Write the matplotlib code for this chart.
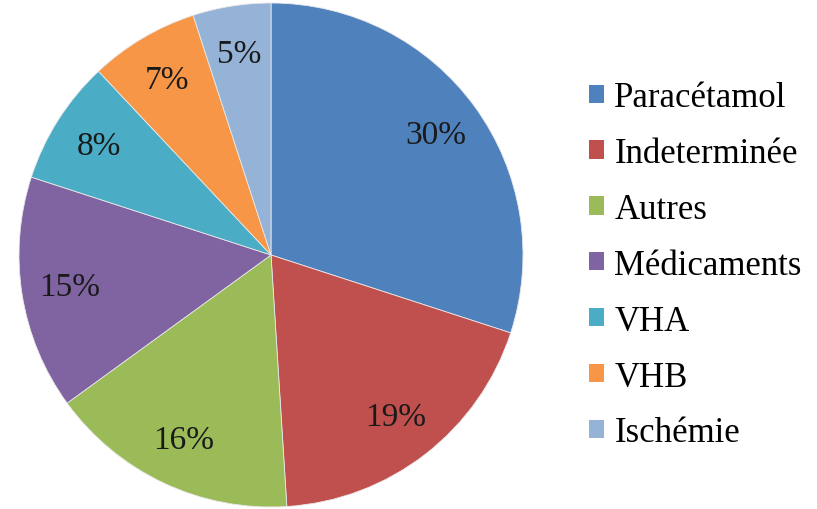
import matplotlib.pyplot as plt
from matplotlib.patches import Patch

# data
labels = ["Paracétamol", "Indeterminée", "Autres", "Médicaments", "VHA", "VHB", "Ischémie"]
values = [30, 19, 16, 15, 8, 7, 5]
colors = ["#4F81BD", "#C0504D", "#9BBB59", "#8064A2", "#4BACC6", "#F79646", "#95B3D7"]

plt.rcParams['font.family'] = ['Liberation Serif', 'DejaVu Serif']

fig = plt.figure(figsize=(8.17, 5.10), dpi=100)
# pie centre ~ (271, 256) px, radius ~ 252 px
ax = fig.add_axes([(271 - 252) / 817, (510 - 256 - 252) / 510, 504 / 817, 504 / 510])

wedges, texts, autotexts = ax.pie(
    values, colors=colors, startangle=90, counterclock=False,
    autopct='%1.0f%%', pctdistance=0.81, radius=1.0,
    wedgeprops=dict(edgecolor='#e8e8e8', linewidth=0.6),
    textprops=dict(fontsize=24, color='#1a1a1a'))
ax.set_xlim(-1, 1)
ax.set_ylim(-1, 1)
ax.set_aspect('equal')

handles = [Patch(facecolor=c, edgecolor='none') for c in colors]
leg = fig.legend(handles, labels, loc='upper left', bbox_to_anchor=(589 / 817, 1 - 82 / 510),
                 frameon=False, fontsize=25, handlelength=0.43, handleheight=0.43,
                 handletextpad=0.3, labelspacing=0.66, borderaxespad=0, borderpad=0)

fig.savefig("out.png", dpi=100)
